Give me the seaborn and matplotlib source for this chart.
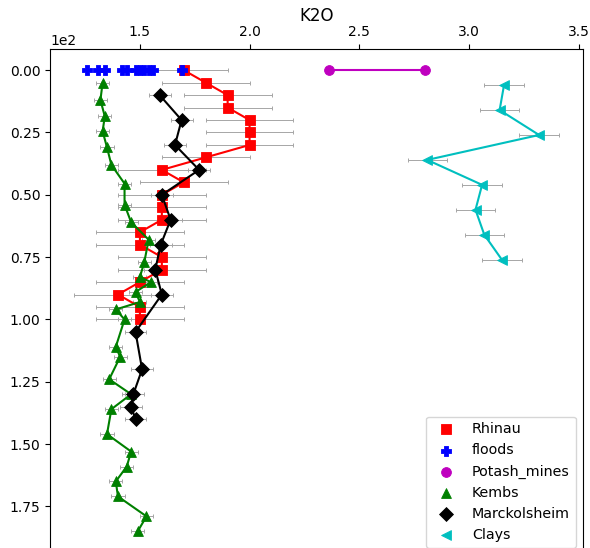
import matplotlib
matplotlib.use("Agg")
import matplotlib.pyplot as plt
import seaborn as sns

# depth (cm) and K2O (%) for each site
rhinau_depth = [0, 5, 10, 15, 20, 25, 30, 35, 40, 45, 50, 55, 60, 65, 70,
                75, 80, 85, 90, 95, 100]
rhinau_k2o = [1.70, 1.80, 1.90, 1.90, 2.00, 2.00, 2.00, 1.80, 1.60, 1.70,
              1.60, 1.60, 1.60, 1.50, 1.50, 1.60, 1.60, 1.50, 1.40, 1.50, 1.50]
rhinau_err = [0.2] * len(rhinau_k2o)

floods_depth = [0] * 11
floods_k2o = [1.26, 1.31, 1.34, 1.42, 1.44, 1.48, 1.50, 1.52, 1.54, 1.56, 1.69]

potash_depth = [0, 0]
potash_k2o = [2.36, 2.80]
potash_err = [0.015, 0.015]

kembs_depth = [5, 12, 18.5, 24.5, 31, 38, 45.5, 54, 61, 68, 77, 83, 85, 89,
               93, 96, 100, 111, 115, 124, 130, 136, 146, 153, 159, 165,
               171, 179, 185]
kembs_k2o = [1.33, 1.32, 1.34, 1.33, 1.35, 1.37, 1.43, 1.43, 1.46, 1.54,
             1.52, 1.50, 1.55, 1.48, 1.50, 1.39, 1.43, 1.39, 1.41, 1.36,
             1.46, 1.37, 1.35, 1.46, 1.44, 1.39, 1.40, 1.53, 1.49]
kembs_err = [0.03] * len(kembs_k2o)

marck_depth = [10, 20, 30, 40, 50, 60, 70, 80, 90, 105, 120, 130, 135, 140]
marck_k2o = [1.59, 1.69, 1.66, 1.77, 1.60, 1.64, 1.595, 1.57, 1.60, 1.48,
             1.51, 1.47, 1.46, 1.48]
marck_err = [0.05] * len(marck_k2o)

clays_depth = [6, 16, 26, 36, 46, 56, 66, 76]
clays_k2o = [3.16, 3.14, 3.32, 2.81, 3.06, 3.03, 3.07, 3.15]
clays_err = [0.09] * len(clays_k2o)

series = [
    ("Rhinau", rhinau_k2o, rhinau_depth, rhinau_err, "s", "red", True),
    ("floods", floods_k2o, floods_depth, None, "P", "blue", False),
    ("Potash_mines", potash_k2o, potash_depth, potash_err, "o", "m", True),
    ("Kembs", kembs_k2o, kembs_depth, kembs_err, "^", "green", True),
    ("Marckolsheim", marck_k2o, marck_depth, marck_err, "D", "black", True),
    ("Clays", clays_k2o, clays_depth, clays_err, "<", "c", True),
]

plt.rcParams["xtick.labelsize"] = 10
plt.rcParams["ytick.labelsize"] = 10

fig = plt.figure(figsize=(5.9, 5.48), dpi=100)
ax = fig.add_axes([0.0847, -0.0128, 0.9034, 0.9234])

for i, (name, x, y, err, marker, color, joined) in enumerate(series):
    if err is not None:
        ax.errorbar(x, y, xerr=err, fmt="none", ecolor="0.65", elinewidth=0.7,
                    capsize=1.5, capthick=0.7, zorder=1)
    if joined:
        ax.plot(x, y, color=color, lw=1.5, zorder=2 + i)
    sns.scatterplot(x=x, y=y, marker=marker, color=color, edgecolor=color,
                    linewidth=0.6, s=50, label=name, ax=ax, zorder=2.5 + i)

ax.set_xlim(1.09, 3.52)
ax.set_ylim(194.5, -8.5)
ax.xaxis.tick_top()
ax.ticklabel_format(axis="y", style="sci", scilimits=(0, 0))
ax.set_xlabel("")
ax.set_ylabel("")
ax.set_title("K2O", fontsize=12, pad=1)
ax.legend(loc="lower right", fontsize=10.3, borderaxespad=0.5)

fig.savefig("out.png", dpi=100)
